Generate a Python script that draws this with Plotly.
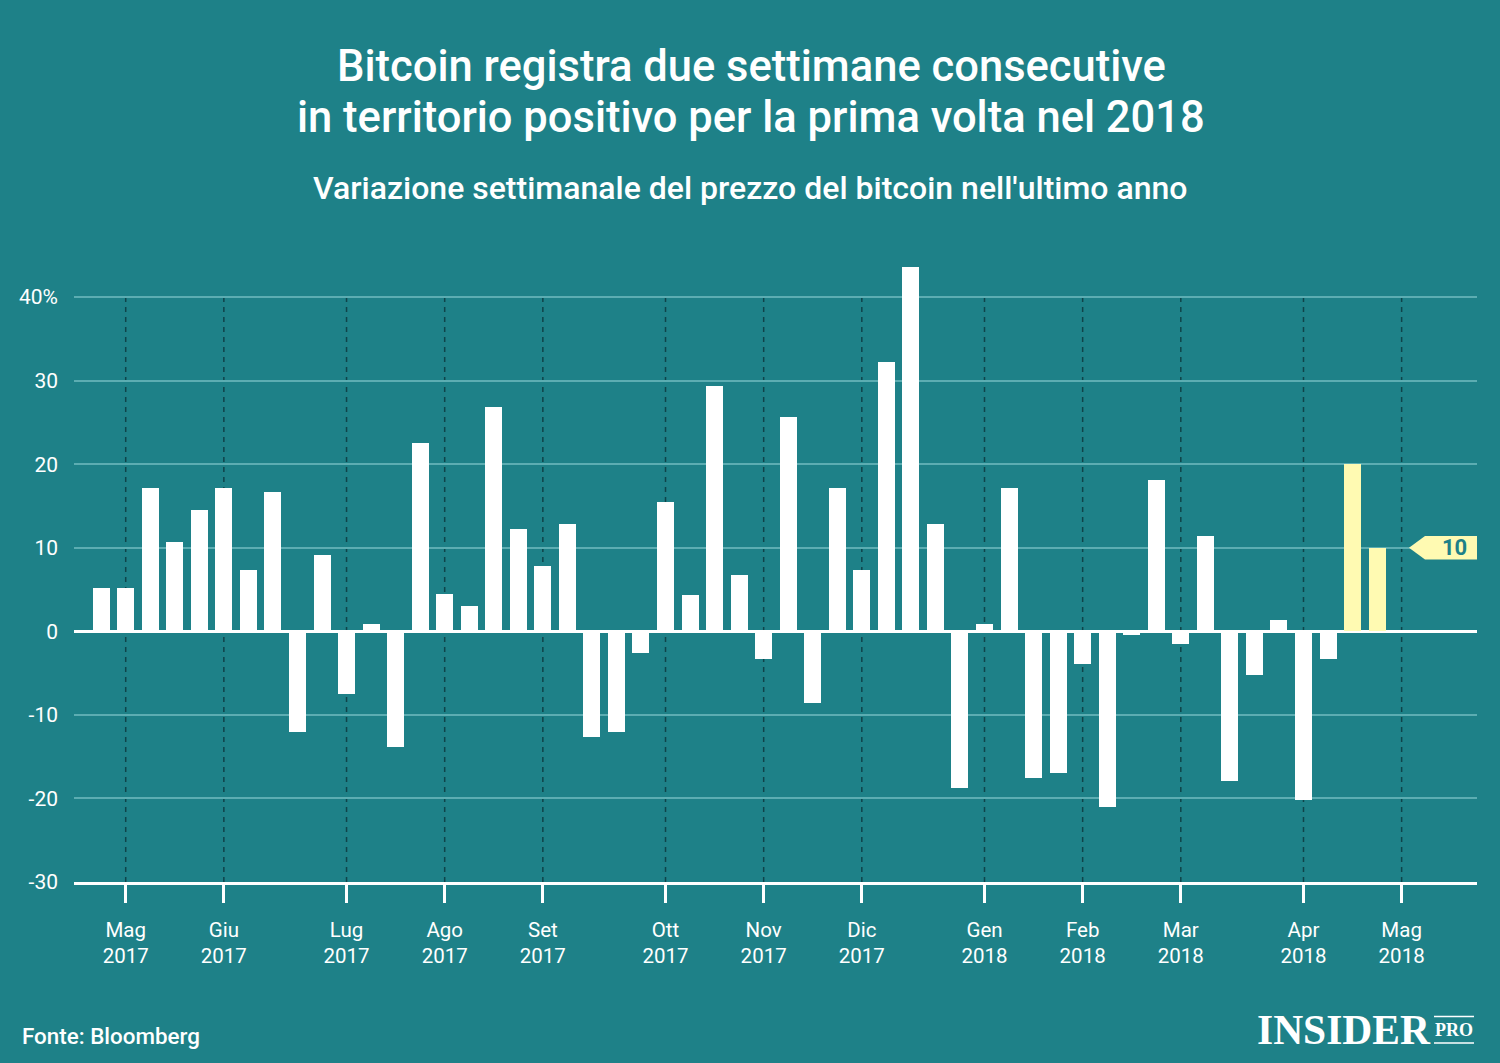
import pandas as pd
import plotly.graph_objects as go

# ---------------- data ----------------
week_start = "2017-04-24"
weekly_change = [
    5.2, 5.2, 17.2, 10.7, 14.5, 17.2, 7.3, 16.7, -12.0, 9.1,
    -7.5, 0.9, -13.9, 22.5, 4.5, 3.0, 26.8, 12.3, 7.8, 12.8,
    -12.7, -12.0, -2.6, 15.5, 4.4, 29.4, 6.7, -3.3, 25.7, -8.6,
    17.2, 7.3, 32.2, 43.6, 12.8, -18.8, 0.85, 17.2, -17.6, -16.9,
    -3.9, -21.0, -0.4, 18.1, -1.5, 11.4, -17.9, -5.2, 1.3, -20.2,
    -3.3, 20.0, 10.0,
]
highlighted_weeks = ["2018-04-16", "2018-04-23"]

month_tick_dates = [
    "2017-05-01", "2017-05-29", "2017-07-03", "2017-07-31", "2017-08-28",
    "2017-10-02", "2017-10-30", "2017-11-27", "2018-01-01", "2018-01-29",
    "2018-02-26", "2018-04-02", "2018-04-30",
]
month_tick_labels = [
    "Mag<br>2017", "Giu<br>2017", "Lug<br>2017", "Ago<br>2017", "Set<br>2017",
    "Ott<br>2017", "Nov<br>2017", "Dic<br>2017", "Gen<br>2018", "Feb<br>2018",
    "Mar<br>2018", "Apr<br>2018", "Mag<br>2018",
]
y_tick_vals = [-30, -20, -10, 0, 10, 20, 30, 40]
y_tick_text = ["-30", "-20", "-10", "0", "10", "20", "30", "40%"]

# ---------------- style ----------------
BG = "#1e8188"
GRID = "#5cadb2"
DASH = "#0f444a"
WHITE = "#ffffff"
YELLOW = "#fffab2"
FONT = "Roboto"

dates = pd.date_range(week_start, periods=len(weekly_change), freq="7D")
hl = set(pd.to_datetime(highlighted_weeks))
colors = [YELLOW if d in hl else WHITE for d in dates]

fig = go.Figure()
fig.add_trace(go.Bar(
    x=dates, y=weekly_change,
    marker=dict(color=colors, line=dict(width=0)),
    width=4.85 * 86400000,
    hoverinfo="x+y",
))

# month dashed verticals (from -30 to 40)
for d in month_tick_dates:
    fig.add_shape(type="line", xref="x", yref="y", x0=d, x1=d, y0=-30, y1=40,
                  line=dict(color=DASH, width=1.5, dash="5px,5px"), layer="below")

L, R, T, B = 74, 23, 247, 181
W, H = 1500, 1063
PW, PH = W - L - R, H - T - B

def px(x):
    return (x - L) / PW

def py(y):
    return (H - B - y) / PH

fig.update_layout(
    width=W, height=H,
    margin=dict(l=L, r=R, t=T, b=B),
    paper_bgcolor=BG, plot_bgcolor=BG,
    showlegend=False,
    bargap=0,
    font=dict(family=FONT, color=WHITE, size=20),
)

fig.update_xaxes(
    type="date",
    range=["2017-04-16 06:00", "2018-05-21 12:00"],
    tickmode="array", tickvals=month_tick_dates, ticktext=month_tick_labels,
    ticks="outside", ticklen=18, tickwidth=2.5, tickcolor=WHITE,
    tickfont=dict(family=FONT, size=20.5, color=WHITE),
    showgrid=False, zeroline=False,
    showline=True, linecolor=WHITE, linewidth=3,
    ticklabelstandoff=9,
)
fig.update_yaxes(
    range=[-30, 46],
    tickmode="array", tickvals=y_tick_vals, ticktext=y_tick_text,
    tickfont=dict(family=FONT, size=21, color=WHITE),
    showgrid=True, gridcolor=GRID, gridwidth=1.5,
    zeroline=True, zerolinecolor=WHITE, zerolinewidth=2.5,
    showline=False, ticks="", ticklabelstandoff=15,
)

# Titles
title_lines = ["Bitcoin registra due settimane consecutive",
               "in territorio positivo per la prima volta nel 2018"]
for line, yc in zip(title_lines, (66, 118)):
    fig.add_annotation(
        text=line,
        xref="paper", yref="paper", x=px(751), y=py(yc), xanchor="center", yanchor="middle",
        showarrow=False, font=dict(family=FONT, size=43.5, color=WHITE, weight=500),
    )
fig.add_annotation(
    text="Variazione settimanale del prezzo del bitcoin nell'ultimo anno",
    xref="paper", yref="paper", x=px(750), y=py(188), xanchor="center", yanchor="middle",
    showarrow=False, font=dict(family=FONT, size=32, color=WHITE, weight=500),
)
fig.add_annotation(
    text="Fonte: Bloomberg",
    xref="paper", yref="paper", x=px(20), y=py(1036), xanchor="left", yanchor="middle",
    showarrow=False, font=dict(family=FONT, size=22.4, color=WHITE, weight=500),
)

# INSIDER PRO logo
fig.add_annotation(
    text="<b>INSIDER</b>",
    xref="paper", yref="paper", x=px(1255), y=py(1030), xanchor="left", yanchor="middle",
    showarrow=False, font=dict(family="Liberation Serif", size=41.5, color=WHITE),
)
fig.add_annotation(
    text="<b>PRO</b>",
    xref="paper", yref="paper", x=px(1454), y=py(1030), xanchor="center", yanchor="middle",
    showarrow=False, font=dict(family="Liberation Serif", size=18, color=WHITE),
)
for yy in (1016.5, 1043):
    fig.add_shape(type="line", xref="paper", yref="paper", x0=px(1434), x1=px(1474),
                  y0=py(yy), y1=py(yy), line=dict(color=WHITE, width=1.5))

# Last-value tag
last_val = weekly_change[-1]
tip, corner, right = px(1409), px(1425), px(1477)
half = 1.4
fig.add_shape(
    type="path", xref="paper", yref="y",
    path=(f"M {tip},{last_val} L {corner},{last_val + half} L {right},{last_val + half} "
          f"L {right},{last_val - half} L {corner},{last_val - half} Z"),
    fillcolor=YELLOW, line=dict(width=0), layer="above",
)
fig.add_annotation(
    text=f"<b>{last_val:g}</b>",
    xref="paper", yref="y", x=px(1469), y=last_val, xanchor="right", yanchor="middle",
    showarrow=False, font=dict(family=FONT, size=22, color=BG),
)

fig.write_html(
    "out.html",
    config={"displayModeBar": False},
    post_script="document.body.style.margin='0';document.body.style.overflow='hidden';",
)
